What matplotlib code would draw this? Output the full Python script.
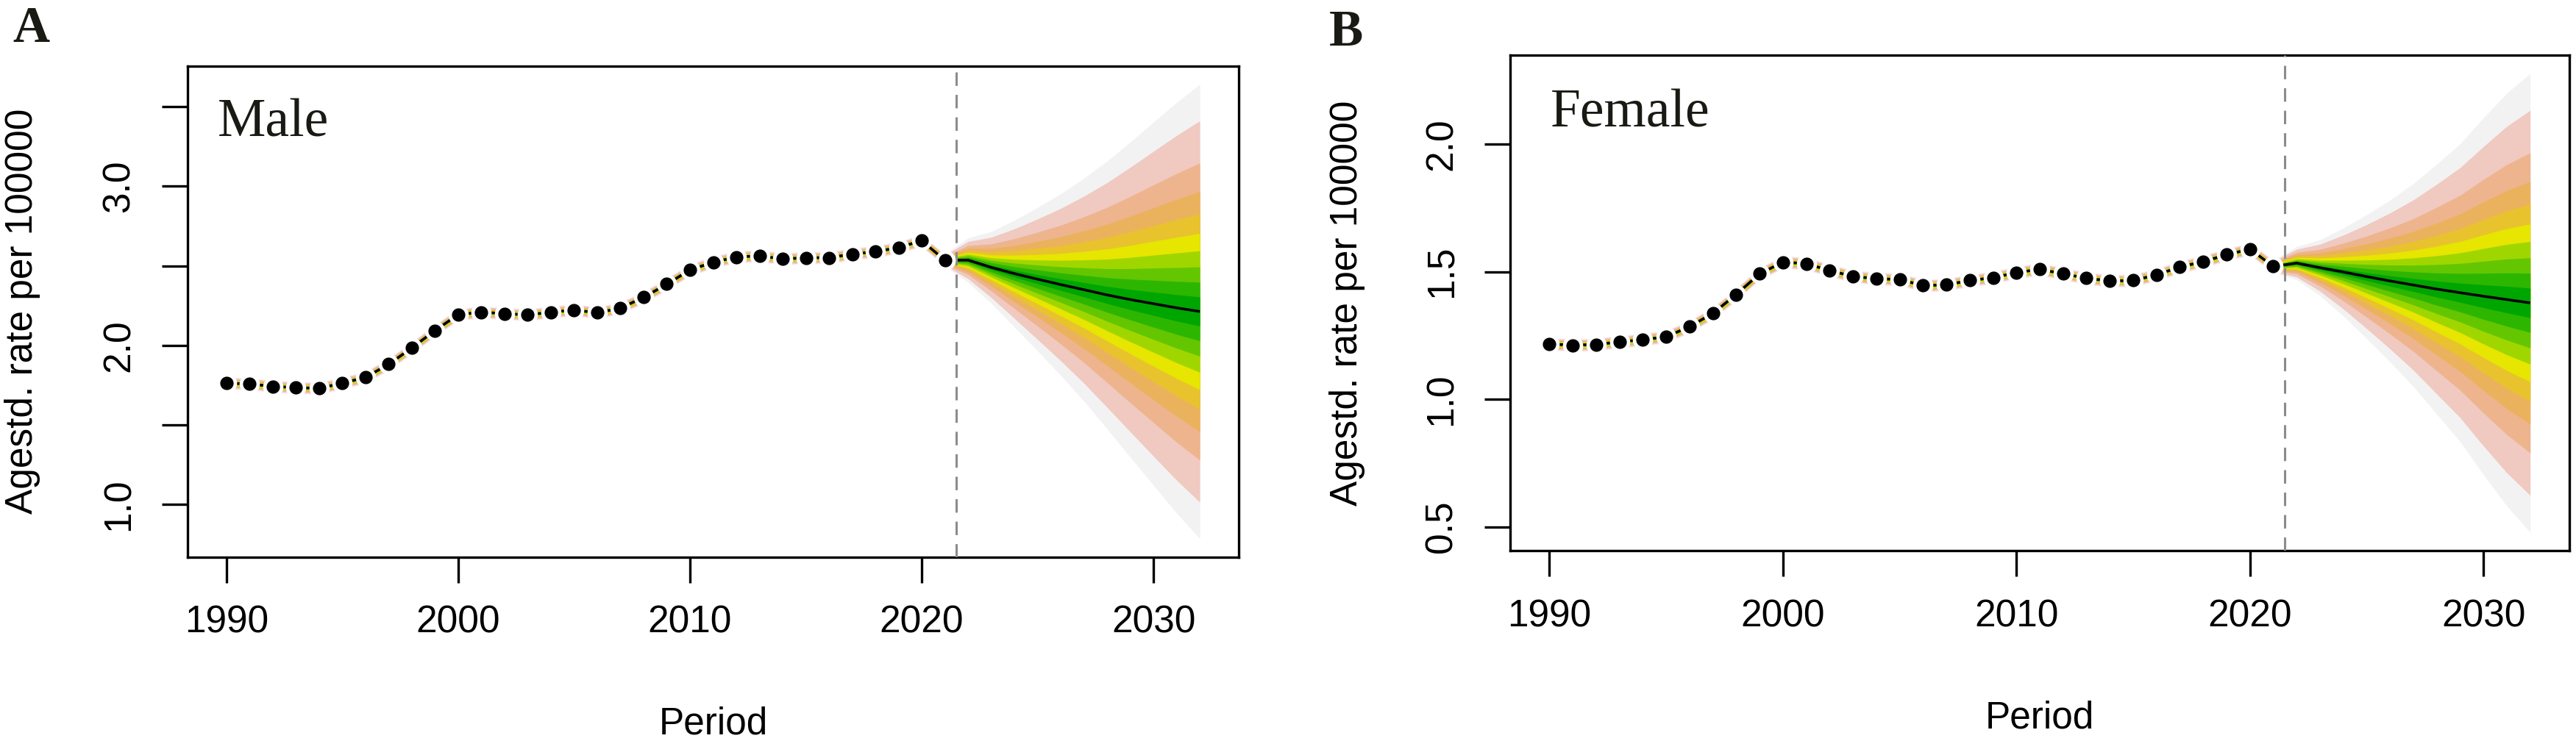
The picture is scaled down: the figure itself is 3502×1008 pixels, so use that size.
import matplotlib
matplotlib.use("Agg")
import matplotlib.pyplot as plt
import numpy as np

# ---------------- data ----------------
hist_years = list(range(1990, 2022))
fc_years = list(range(2022, 2033))

male_obs = [1.763, 1.758, 1.743, 1.735, 1.731, 1.763, 1.800, 1.882, 1.985, 2.094,
            2.194, 2.209, 2.200, 2.192, 2.209, 2.223, 2.205, 2.235, 2.302, 2.385,
            2.474, 2.523, 2.555, 2.563, 2.543, 2.551, 2.551, 2.574, 2.589, 2.615,
            2.658, 2.535]
male_fc_median = [2.536, 2.490, 2.451, 2.416, 2.382, 2.350, 2.317, 2.288, 2.262, 2.236, 2.213]
male_fc_sd = [0.071, 0.115, 0.171, 0.230, 0.291, 0.357, 0.429, 0.505, 0.582, 0.658, 0.728]
male_hist_sd = 0.020

female_obs = [1.217, 1.212, 1.215, 1.225, 1.234, 1.245, 1.285, 1.337, 1.411, 1.492,
              1.538, 1.532, 1.505, 1.482, 1.473, 1.470, 1.446, 1.449, 1.466, 1.477,
              1.497, 1.510, 1.492, 1.475, 1.464, 1.466, 1.488, 1.519, 1.540, 1.567,
              1.589, 1.521]
female_fc_median = [1.534, 1.516, 1.499, 1.481, 1.464, 1.448, 1.432, 1.418, 1.404, 1.391, 1.378]
female_fc_sd = [0.033, 0.056, 0.088, 0.124, 0.162, 0.203, 0.250, 0.298, 0.357, 0.413, 0.459]
female_hist_sd = 0.013

# normal quantiles of the fan levels (2.5%, 5%, 10%, ..., 45%) and their colours
quantile_z = [1.960, 1.645, 1.282, 1.036, 0.842, 0.674, 0.524, 0.385, 0.253, 0.126]
fan_colors = ["#F2F2F2", "#F0C9C0", "#EDB48E", "#EBB25E", "#E8C32E",
              "#E6E600", "#A0D600", "#63C600", "#2DB600", "#00A600"]

x_ticks = [1990, 2000, 2010, 2020, 2030]
male_yticks = [1.0, 1.5, 2.0, 2.5, 3.0, 3.5]
male_yticklabels = ["1.0", "", "2.0", "", "3.0", ""]
female_yticks = [0.5, 1.0, 1.5, 2.0]
female_yticklabels = ["0.5", "1.0", "1.5", "2.0"]
split_year = 2021.5

panels = [
    dict(obs=male_obs, med=male_fc_median, sd=male_fc_sd, hsd=male_hist_sd,
         yt=male_yticks, ytl=male_yticklabels, name="Male", letter="A",
         rect=[255 / 3502, 1 - 757.5 / 1008, 1429 / 3502, 667.5 / 1008],
         ylab_x=31, per_y=985, name_xy=(296, 186), let_xy=(17, 57)),
    dict(obs=female_obs, med=female_fc_median, sd=female_fc_sd, hsd=female_hist_sd,
         yt=female_yticks, ytl=female_yticklabels, name="Female", letter="B",
         rect=[2053 / 3502, 1 - 749 / 1008, 1440 / 3502, 674 / 1008],
         ylab_x=1831, per_y=977, name_xy=(2108, 172), let_xy=(1807, 62)),
]

W, H = 3502, 1008
fig = plt.figure(figsize=(W / 100, H / 100), dpi=100)
sans = ["Liberation Sans", "DejaVu Sans"]
serif = ["Liberation Serif", "DejaVu Serif"]

for p in panels:
    ax = fig.add_axes(p["rect"])
    years = np.array(hist_years + fc_years, dtype=float)
    med = np.array(p["obs"] + p["med"])
    sd = np.array([p["hsd"]] * len(hist_years) + p["sd"])

    for z, c in zip(quantile_z, fan_colors):
        ax.fill_between(years, med - z * sd, med + z * sd, color=c, lw=0, zorder=1)
    ax.plot(years, med, color="black", lw=2.6, zorder=2, solid_capstyle="butt")
    ax.axvline(split_year, color="#8C8C8C", lw=2.2, ls=(0, (6, 4)), zorder=3)
    ax.plot(hist_years, p["obs"], ls="none", marker="o", ms=16.5,
            mfc="black", mec="white", mew=3.4, zorder=4)

    # R-style 4% axis extension
    x0, x1 = years.min(), years.max()
    lo = (med - quantile_z[0] * sd).min()
    hi = (med + quantile_z[0] * sd).max()
    ax.set_xlim(x0 - 0.04 * (x1 - x0), x1 + 0.04 * (x1 - x0))
    ax.set_ylim(lo - 0.04 * (hi - lo), hi + 0.04 * (hi - lo))

    ax.set_xticks(x_ticks)
    ax.set_xticklabels([str(t) for t in x_ticks], fontfamily=sans)
    ax.set_yticks(p["yt"])
    ax.set_yticklabels(p["ytl"], fontfamily=sans, rotation=90, va="center")
    ax.tick_params(axis="both", direction="out", length=25, width=2.4,
                   labelsize=37, colors="black")
    ax.tick_params(axis="x", pad=22)
    ax.tick_params(axis="y", pad=24)
    for s in ax.spines.values():
        s.set_linewidth(2.4)

    cx = p["rect"][0] + p["rect"][2] / 2
    cy = p["rect"][1] + p["rect"][3] / 2
    fig.text(p["ylab_x"] / W, cy, "Agestd. rate per 100000", rotation=90,
             ha="center", va="center", fontsize=37, family=sans)
    fig.text(cx, 1 - p["per_y"] / H, "Period", ha="center", va="center",
             fontsize=37, family=sans)
    fig.text(p["name_xy"][0] / W, 1 - p["name_xy"][1] / H, p["name"],
             ha="left", va="baseline", fontsize=53, family=serif, color="#1a1a14")
    fig.text(p["let_xy"][0] / W, 1 - p["let_xy"][1] / H, p["letter"],
             ha="left", va="baseline", fontsize=50, family=serif,
             fontweight="bold", color="#1a1a14")

fig.savefig("out.png", dpi=100)
